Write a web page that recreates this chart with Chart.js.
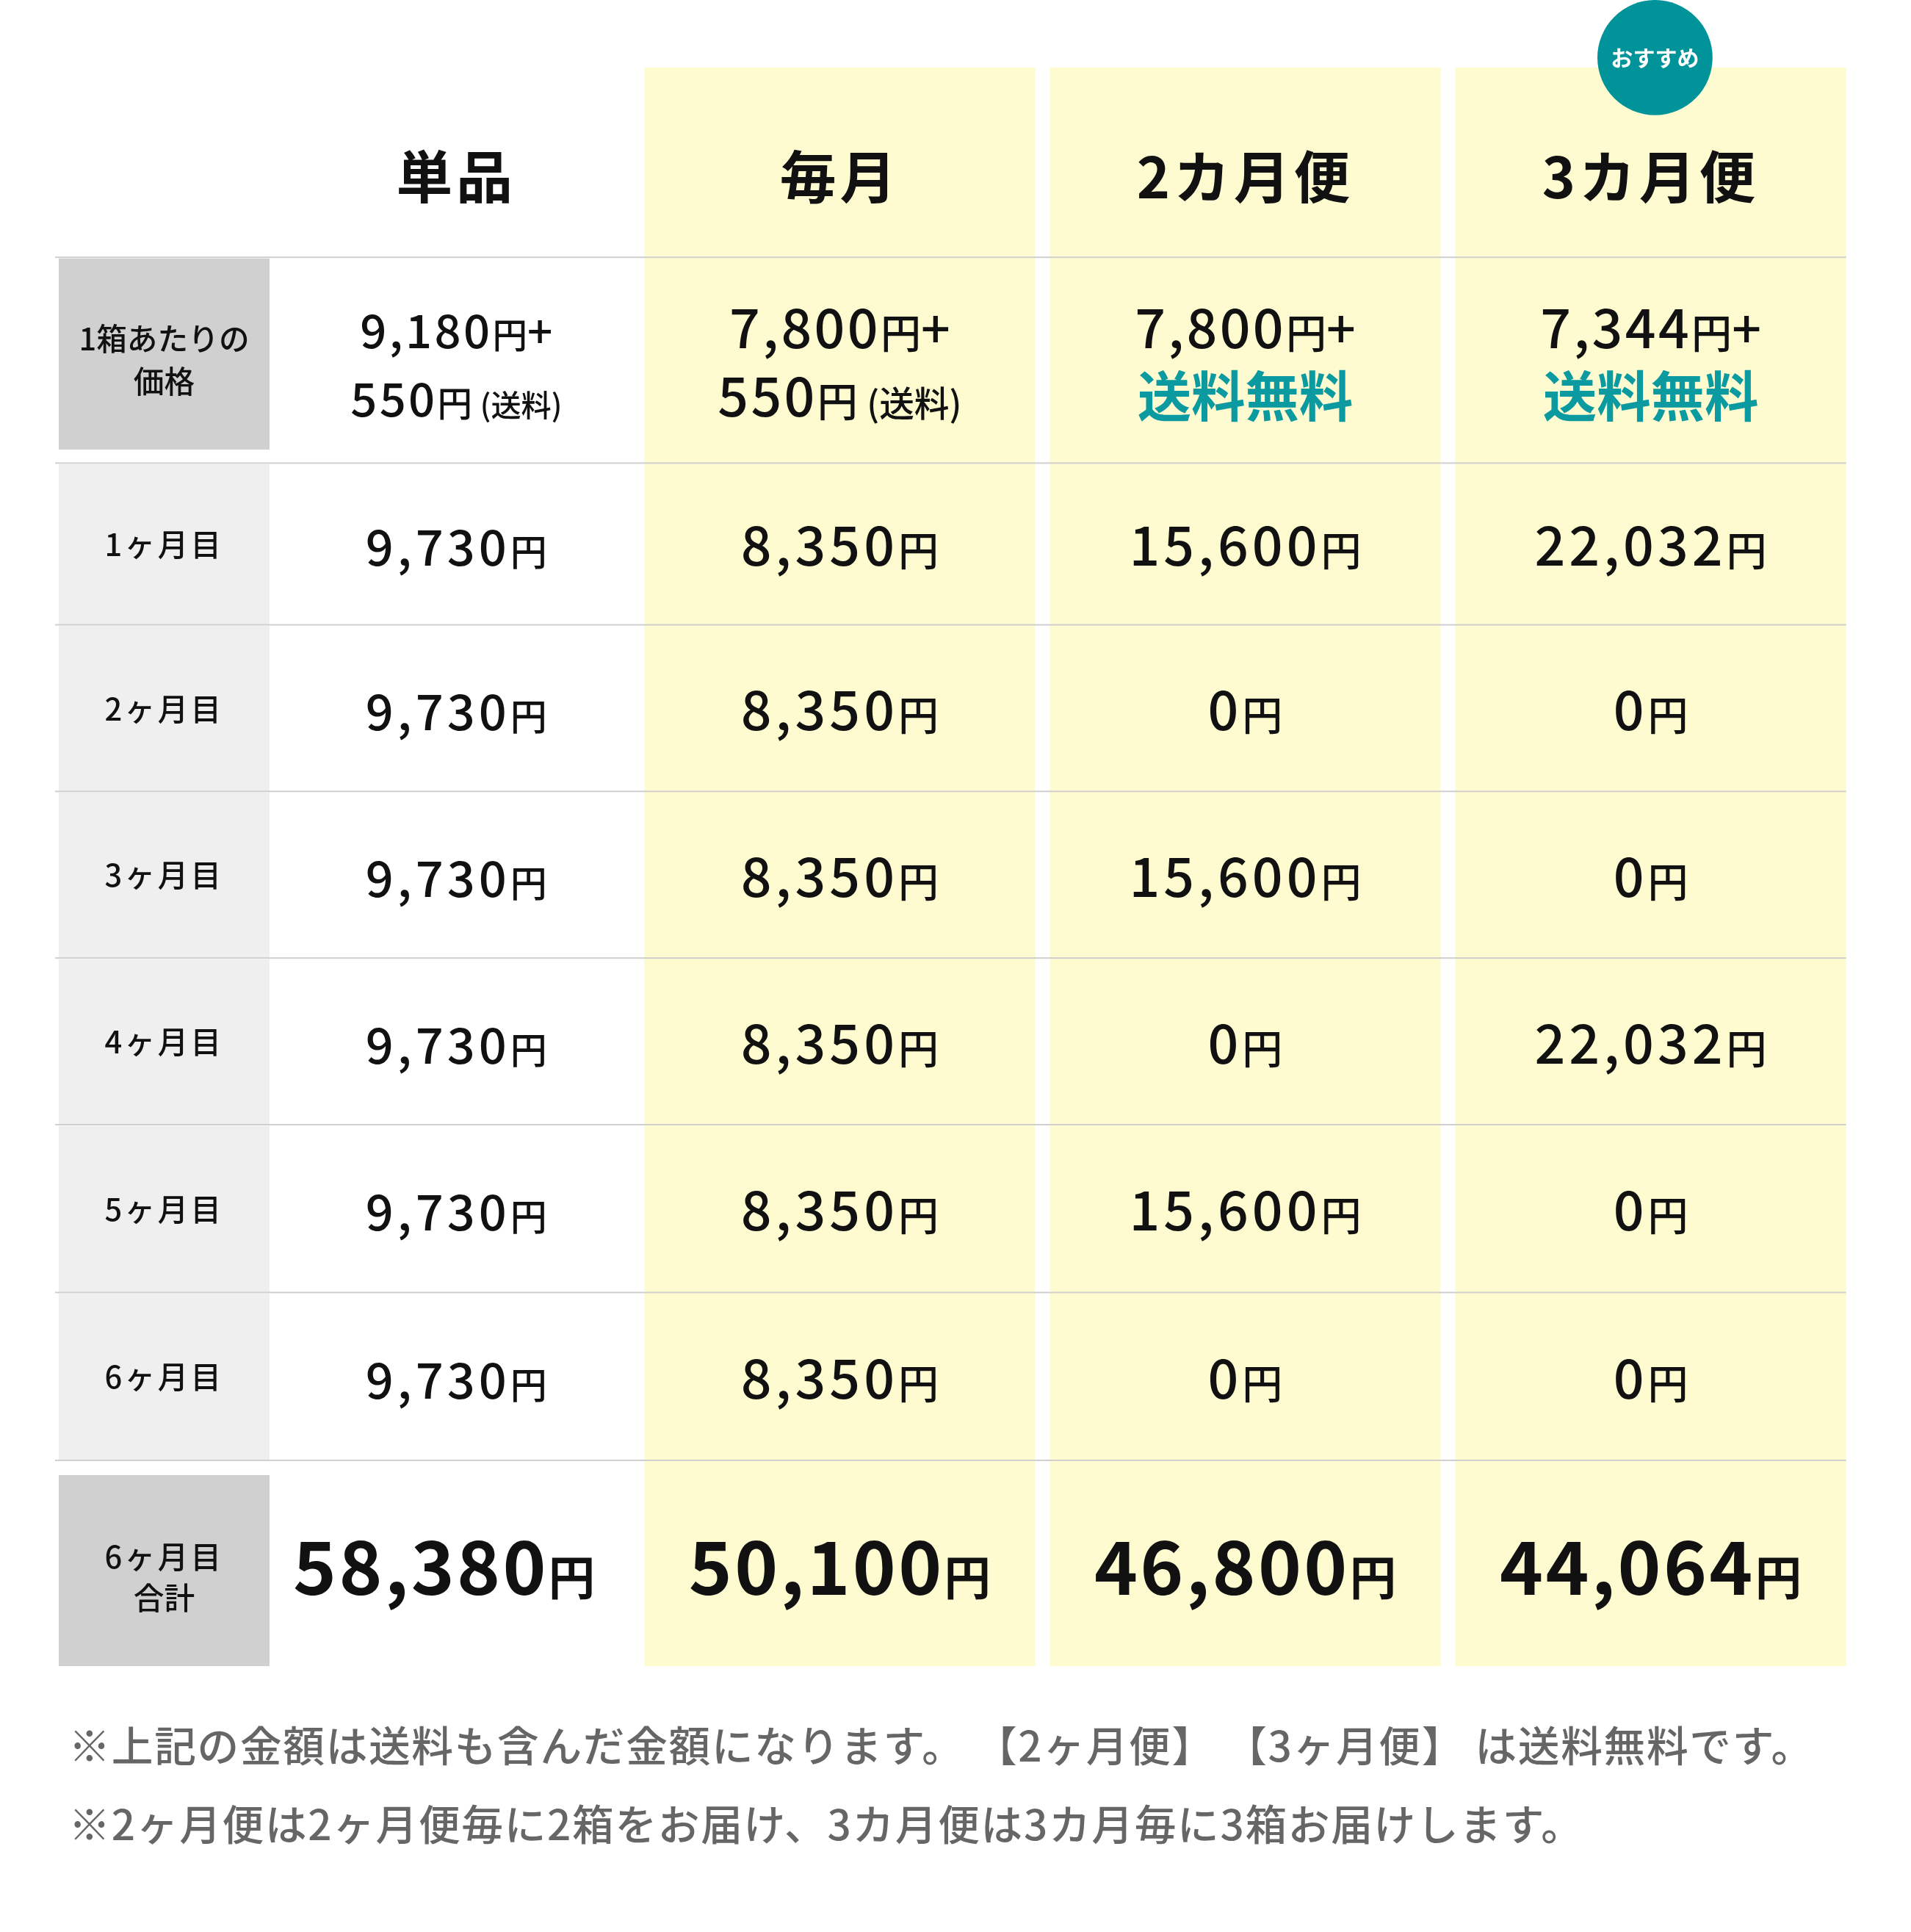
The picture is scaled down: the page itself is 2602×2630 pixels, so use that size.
<!DOCTYPE html>
<html><head><meta charset="utf-8">
<script src="https://cdn.jsdelivr.net/npm/chart.js@4/dist/chart.umd.min.js"></script>
<style>html,body{margin:0;padding:0;background:#fff}#wrap{width:2602px;height:2630px}</style>
</head><body><div id="wrap"><canvas id="c"></canvas></div>
<script>
// table content
const plans = ['単品', '毎月', '2カ月便', '3カ月便'];
const monthLabels = ['1ヶ月目', '2ヶ月目', '3ヶ月目', '4ヶ月目', '5ヶ月目', '6ヶ月目'];
const basePrice = ['9,180', '7,800', '7,800', '7,344'];
const shipping = ['550', '550', null, null];
const singleValues = [9730, 9730, 9730, 9730, 9730, 9730];
const everyMonthValues = [8350, 8350, 8350, 8350, 8350, 8350];
const twoMonthValues = [15600, 0, 15600, 0, 15600, 0];
const threeMonthValues = [22032, 0, 0, 22032, 0, 0];
const totals = [58380, 50100, 46800, 44064];
const notes = [
  '※上記の金額は送料も含んだ金額になります。 【2ヶ月便】 【3ヶ月便】 は送料無料です。',
  '※2ヶ月便は2ヶ月便毎に2箱をお届け、3カ月便は3カ月毎に3箱お届けします。'
];

// layout (in scale units, 1560 x 1577)
const colEdges = [[48, 220], [220, 525], [526, 845], [857, 1176], [1188, 1507]];
const rowEdges = [55, 210, 378, 510, 646, 782, 918, 1055, 1192, 1360];
const FONT = '"Noto Sans CJK JP", "Noto Sans", sans-serif';
const fmt = v => v.toLocaleString('en-US');

const tablePlugin = {
  id: 'table',
  beforeDatasetsDraw(chart) {
    const { ctx, scales: { x, y } } = chart;
    const k = x.getPixelForValue(1) - x.getPixelForValue(0);
    const X = v => x.getPixelForValue(v), Y = v => y.getPixelForValue(v);
    const rect = (x0, y0, x1, y1, c) => { ctx.fillStyle = c; ctx.fillRect(X(x0), Y(y0), X(x1) - X(x0), Y(y1) - Y(y0)); };
    const mixed = (parts, cx, cy) => {
      let w = 0;
      parts.forEach(p => { ctx.font = `${p.w || 500} ${p.s * k}px ${FONT}`; ctx.letterSpacing = (p.ls || 0) * k + 'px'; p.width = ctx.measureText(p.t).width; w += p.width; });
      let px = X(cx) - w / 2;
      ctx.textAlign = 'left'; ctx.textBaseline = 'alphabetic';
      parts.forEach(p => { ctx.font = `${p.w || 500} ${p.s * k}px ${FONT}`; ctx.letterSpacing = (p.ls || 0) * k + 'px'; ctx.fillStyle = p.c || '#111'; ctx.fillText(p.t, px, Y(cy)); px += p.width; });
      ctx.letterSpacing = '0px';
    };
    const cx = i => (colEdges[i][0] + colEdges[i][1]) / 2;
    const mid = r => (rowEdges[r] + rowEdges[r + 1]) / 2;

    // column backgrounds for plans
    for (let i = 2; i <= 4; i++) rect(colEdges[i][0], rowEdges[0], colEdges[i][1], rowEdges[9], '#fffbd0');
    // label column backgrounds
    rect(48, 211, 220, 367, '#d0d0d0');
    for (let r = 2; r < 8; r++) rect(48, rowEdges[r] + 1, 220, rowEdges[r + 1], '#efefef');
    rect(48, 1204, 220, 1360, '#d0d0d0');
    // grid lines
    ctx.fillStyle = '#cfcfcf';
    for (let r = 1; r < 9; r++) ctx.fillRect(X(45), Y(rowEdges[r]) - 1, X(1507) - X(45), 2);

    // badge
    ctx.fillStyle = '#00949a';
    ctx.beginPath(); ctx.arc(X(1351), Y(47), 47 * k, 0, Math.PI * 2); ctx.fill();
    mixed([{ t: 'おすすめ', s: 18, w: 700, c: '#fff' }], 1351, 54);

    // headers
    plans.forEach((p, i) => mixed([{ t: p, s: 46, w: 700, ls: 3 }], cx(i + 1), 162));

    // price row
    mixed([{ t: '1箱あたりの', s: 25, w: 500 }], cx(0), 286);
    mixed([{ t: '価格', s: 25, w: 500 }], cx(0), 321);
    plans.forEach((p, i) => {
      const s = i === 0 ? 38 : 44;
      mixed([{ t: basePrice[i], s, ls: 2 }, { t: '円', s: s * 0.75 }, { t: '+', s: s * 0.95 }], cx(i + 1), 284);
      if (shipping[i]) mixed([{ t: shipping[i], s, ls: 2 }, { t: '円 ', s: s * 0.75 }, { t: '(送料)', s: s * 0.65 }], cx(i + 1), 340);
      else mixed([{ t: '送料無料', s: 44, w: 700, c: '#0a9aa0' }], cx(i + 1), 340);
    });

    // monthly rows
    const series = [singleValues, everyMonthValues, twoMonthValues, threeMonthValues];
    monthLabels.forEach((m, r) => {
      const cy = mid(r + 2) + 14;
      mixed([{ t: m, s: 25, ls: 2 }], cx(0), cy - 4);
      series.forEach((vals, i) => {
        const s = i === 0 ? 40 : 44;
        mixed([{ t: fmt(vals[r]), s, ls: 3 }, { t: '円', s: s * 0.75 }], cx(i + 1), cy + 4);
      });
    });

    // totals
    mixed([{ t: '6ヶ月目', s: 25, ls: 2 }], cx(0), 1280);
    mixed([{ t: '合計', s: 25 }], cx(0), 1314);
    totals.forEach((v, i) => mixed([{ t: fmt(v), s: 60, w: 700, ls: 2 }, { t: '円', s: 38, w: 700 }], cx(i + 1) - (i === 0 ? 10 : 0), 1302));

    // notes
    ctx.textAlign = 'left';
    ctx.font = `500 ${34 * k}px ${FONT}`;
    ctx.letterSpacing = 1 * k + 'px';
    ctx.fillStyle = '#666';
    notes.forEach((n, i) => ctx.fillText(n, X(56), Y(1438 + i * 64)));
    ctx.letterSpacing = '0px';
  }
};

new Chart(document.getElementById('c'), {
  type: 'scatter',
  data: { datasets: [{ data: [] }] },
  options: {
    responsive: true, maintainAspectRatio: false, animation: false,
    layout: { padding: 0 },
    plugins: { legend: { display: false }, tooltip: { enabled: false } },
    scales: {
      x: { type: 'linear', min: 0, max: 1560, display: false },
      y: { type: 'linear', min: 0, max: 1577, reverse: true, display: false }
    }
  },
  plugins: [tablePlugin]
});
</script></body></html>
